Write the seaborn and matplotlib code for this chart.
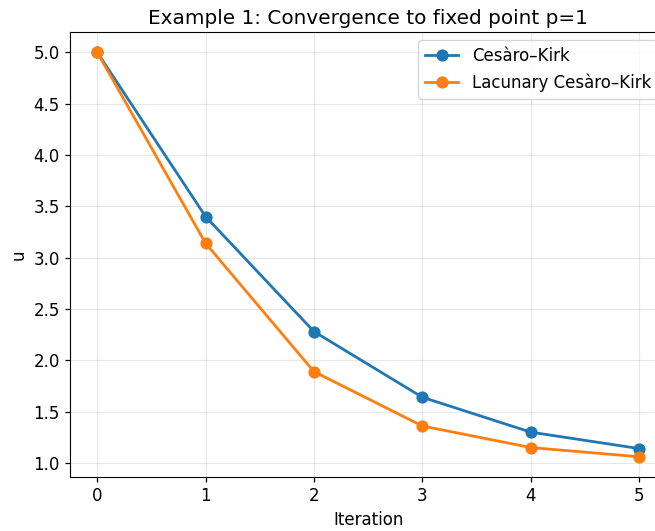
import pandas as pd
import matplotlib.pyplot as plt
import seaborn as sns

# ----------------------------
# Data
# ----------------------------
iterations = [0, 1, 2, 3, 4, 5]
cesaro_kirk = [5.0, 3.40, 2.28, 1.64, 1.30, 1.14]
lacunary_cesaro_kirk = [5.0, 3.14, 1.89, 1.36, 1.15, 1.06]
series_names = ["Cesàro–Kirk", "Lacunary Cesàro–Kirk"]

df = pd.DataFrame({
    "Iteration": iterations * 2,
    "u": cesaro_kirk + lacunary_cesaro_kirk,
    "Method": [series_names[0]] * len(iterations) + [series_names[1]] * len(iterations),
})

# ----------------------------
# Settings (plain matplotlib look)
# ----------------------------
plt.rcParams["font.family"] = ["DejaVu Sans"]

fig = plt.figure(figsize=(6.55, 5.31), dpi=100)
ax = fig.add_axes([0.107, 0.1017, 0.91, 0.838])

sns.lineplot(
    data=df, x="Iteration", y="u", hue="Method",
    palette=["#1f77b4", "#ff7f0e"], marker="o", markersize=8.8,
    markeredgewidth=0, linewidth=2.0, ax=ax,
)

ax.grid(True, alpha=0.3)
ax.set_xticks(iterations)
ax.set_title("Example 1: Convergence to fixed point p=1", fontsize=14.4)
ax.set_xlabel("Iteration", fontsize=12)
ax.set_ylabel("u", fontsize=12)
ax.tick_params(labelsize=12, length=3.9, width=0.9)
ax.legend(title=None, loc="upper right", fontsize=12)

plt.savefig("out.png", dpi=100)
